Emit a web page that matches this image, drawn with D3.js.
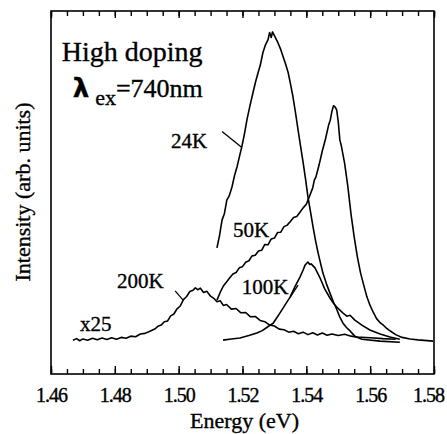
<!DOCTYPE html>
<html><head><meta charset="utf-8">
<script src="https://cdn.jsdelivr.net/npm/d3@7"></script>
<style>body{margin:0;background:#fff}svg{display:block}text{font-family:"Liberation Serif","Times New Roman",serif;fill:#000;stroke:#000;stroke-width:0.35px}</style>
</head><body><svg id="c" width="447" height="434"></svg>
<script>
// Energy (eV), intensity (arb. units)
const xTicks = [1.46, 1.48, 1.50, 1.52, 1.54, 1.56, 1.58];
const xTickLabels = ["1.46", "1.48", "1.50", "1.52", "1.54", "1.56", "1.58"];
const k24 = [[1.5120,30.0],[1.5128,34.0],[1.5136,39.1],[1.5143,41.0],[1.5151,45.6],[1.5158,46.8],[1.5167,49.8],[1.5175,53.5],[1.5183,56.4],[1.519,59.5],[1.5198,62.9],[1.5206,67.0],[1.5214,71.7],[1.5224,76.5],[1.5233,80.5],[1.5241,84.0],[1.5249,87.0],[1.5256,89.5],[1.5264,93.5],[1.5272,96.0],[1.5280,97.7],[1.5285,100.0],[1.529,98.4],[1.5294,100.2],[1.530,99.0],[1.5311,96.7],[1.5319,94.7],[1.5327,92.2],[1.5335,89.8],[1.5343,87.0],[1.535,83.5],[1.5358,79.2],[1.5366,74.0],[1.5374,68.4],[1.5382,63.0],[1.5390,57.7],[1.5398,52.0],[1.5405,46.6],[1.5413,41.8],[1.5421,36.8],[1.5429,32.3],[1.5437,28.3],[1.5445,24.8],[1.5452,21.8],[1.5463,18.3],[1.5474,15.3],[1.5485,12.4],[1.5496,9.8],[1.5505,7.5],[1.5515,5.5],[1.5525,4.2],[1.5537,3.0],[1.5552,1.3],[1.5574,0.3],[1.5631,-0.3],[1.5693,-0.7]];
const k50 = [[1.5120,13.0],[1.513,15.5],[1.514,17.6],[1.515,18.9],[1.516,20.3],[1.517,21.5],[1.518,22.0],[1.519,23.5],[1.520,23.9],[1.521,25.3],[1.522,25.8],[1.523,27.4],[1.524,27.6],[1.525,29.0],[1.526,29.2],[1.527,31.1],[1.528,31.0],[1.529,32.9],[1.530,33.2],[1.531,35.0],[1.532,35.1],[1.533,36.9],[1.534,37.4],[1.535,38.6],[1.536,39.9],[1.537,40.2],[1.538,41.6],[1.539,43.0],[1.540,44.2],[1.541,46.8],[1.542,49.5],[1.5425,52.0],[1.543,53.0],[1.544,57.0],[1.545,61.5],[1.546,65.4],[1.547,70.0],[1.5475,71.5],[1.548,74.3],[1.5485,76.2],[1.549,75.8],[1.5495,74.9],[1.550,71.0],[1.5505,65.1],[1.551,63.0],[1.552,57.5],[1.553,50.0],[1.554,41.0],[1.555,33.5],[1.556,27.0],[1.557,21.8],[1.558,17.8],[1.559,14.0],[1.560,11.2],[1.561,9.0],[1.562,7.0],[1.563,5.8],[1.564,5.0],[1.565,4.0],[1.566,3.2],[1.567,2.5],[1.568,1.8],[1.570,0.9],[1.5725,0.4],[1.575,0.1],[1.5797,-0.3]];
const k100 = [[1.5139,0.0],[1.5165,0.4],[1.5192,0.7],[1.522,1.5],[1.5245,2.3],[1.5262,3.1],[1.5277,4.2],[1.5296,5.5],[1.5307,7.2],[1.5317,8.8],[1.5333,11.4],[1.5349,14.0],[1.5364,17.3],[1.5380,20.5],[1.5390,22.8],[1.5396,24.4],[1.5405,25.4],[1.5411,24.6],[1.5415,24.8],[1.5427,23.5],[1.5435,21.9],[1.5443,20.2],[1.5458,16.6],[1.5474,13.7],[1.5485,12.0],[1.5496,10.7],[1.5515,8.8],[1.5527,7.8],[1.5537,8.1],[1.5552,6.5],[1.5574,4.9],[1.5599,3.3],[1.5631,2.0],[1.5662,1.0],[1.5693,0.3]];
const k200 = [[1.4669,0.0],[1.468,0.5],[1.469,-0.2],[1.470,0.4],[1.4715,0.0],[1.473,0.6],[1.4745,0.1],[1.476,0.7],[1.4775,0.2],[1.479,0.8],[1.4805,0.3],[1.482,0.9],[1.4835,0.6],[1.485,1.3],[1.4865,1.1],[1.488,2.0],[1.4895,2.2],[1.491,2.9],[1.4925,3.6],[1.4935,4.5],[1.4945,4.9],[1.4955,6.0],[1.4965,6.2],[1.4975,7.9],[1.4985,8.5],[1.4995,10.2],[1.5005,11.1],[1.5015,13.2],[1.5025,14.2],[1.5035,15.8],[1.5045,16.2],[1.5052,17.0],[1.506,16.4],[1.5068,16.9],[1.5078,15.5],[1.5088,15.9],[1.510,14.3],[1.511,13.6],[1.512,12.5],[1.513,12.8],[1.514,11.3],[1.515,11.6],[1.5165,10.1],[1.518,10.3],[1.5195,8.9],[1.521,9.0],[1.5225,7.6],[1.524,7.7],[1.5255,6.4],[1.527,6.0],[1.5285,4.9],[1.530,4.6],[1.5315,3.6],[1.533,3.4],[1.5345,2.6],[1.536,2.9],[1.5375,2.1],[1.539,2.6],[1.5405,1.8],[1.542,2.4],[1.5435,1.7],[1.545,2.3],[1.5465,1.6],[1.548,2.0],[1.550,1.5],[1.552,1.9],[1.554,1.3],[1.556,1.0],[1.560,0.8],[1.564,0.5],[1.568,0.3]];
const seriesNames = ["24K", "50K", "100K", "200K"];

const svg = d3.select("#c");
const m = {l: 51, r: 434, t: 11, b: 374};
const x = d3.scaleLinear().domain([1.46, 1.58]).range([m.l, m.r]);
const y = d3.scaleLinear().domain([-11, 107]).range([m.b, m.t]);

// frame
svg.append("rect").attr("x", m.l).attr("y", m.t).attr("width", m.r - m.l).attr("height", m.b - m.t)
  .attr("fill", "none").attr("stroke", "#000").attr("stroke-width", 1.6);

const minor = d3.range(0, 25).map(i => 1.46 + i * 0.005);
const bottomMinor = d3.axisBottom(x).tickValues(minor).tickSize(-5).tickFormat("");
svg.append("g").attr("transform", `translate(0,${m.b})`).call(bottomMinor)
  .call(g => { g.select(".domain").remove(); g.selectAll("line").attr("stroke-width", 1.4); });
const bottomMaj = d3.axisBottom(x).tickValues(xTicks).tickSize(-8).tickPadding(14)
  .tickFormat((d, i) => xTickLabels[i]);
svg.append("g").attr("transform", `translate(0,${m.b})`).call(bottomMaj)
  .call(g => { g.select(".domain").remove(); g.selectAll("line").attr("stroke-width", 1.4);
    g.selectAll("text").attr("font-size", 20).attr("font-family", "Liberation Serif").attr("letter-spacing", -1)
      .attr("dx", (d, i) => i === xTicks.length - 1 ? -6 : 0); });
const topMinor = d3.axisTop(x).tickValues(minor).tickSize(-5).tickFormat("");
svg.append("g").attr("transform", `translate(0,${m.t})`).call(topMinor)
  .call(g => { g.select(".domain").remove(); g.selectAll("line").attr("stroke-width", 1.4); });
const topMaj = d3.axisTop(x).tickValues(xTicks).tickSize(-7).tickFormat("");
svg.append("g").attr("transform", `translate(0,${m.t})`).call(topMaj)
  .call(g => { g.select(".domain").remove(); g.selectAll("line").attr("stroke-width", 1.4); });

// axis titles
svg.append("text").attr("x", (m.l + m.r) / 2 + 2).attr("y", 428).attr("text-anchor", "middle")
  .attr("font-size", 22).text("Energy (eV)");
svg.append("text").attr("transform", `translate(30,192) rotate(-90)`).attr("text-anchor", "middle")
  .attr("font-size", 22).text("Intensity (arb. units)");

// curves
const line = d3.line().x(d => x(d[0])).y(d => y(d[1]));
[k24, k50, k100, k200].forEach((s, i) => {
  svg.append("path").datum(s).attr("class", "s" + seriesNames[i]).attr("d", line)
    .attr("fill", "none").attr("stroke", "#000").attr("stroke-width", 1.6).attr("stroke-linejoin", "round");
});

// annotations
const labels = [
  {t: "24K", e: 1.5089, v: 62.5, anchor: "end"},
  {t: "50K", e: 1.5170, v: 33.6, anchor: "start"},
  {t: "100K", e: 1.5198, v: 15.0, anchor: "start"},
  {t: "200K", e: 1.4807, v: 16.9, anchor: "start"},
  {t: "x25", e: 1.4691, v: 2.9, anchor: "start"}
];
labels.forEach(l => svg.append("text").attr("x", x(l.e)).attr("y", y(l.v)).attr("text-anchor", l.anchor)
  .attr("font-size", 21).text(l.t));
const pointers = [
  [[1.5136, 67.8], [1.5198, 62.6]],
  [[1.5374, 17.9], [1.5349, 13.9]],
  [[1.4989, 16.0], [1.5014, 13.0]]
];
pointers.forEach(p => svg.append("line").attr("x1", x(p[0][0])).attr("y1", y(p[0][1]))
  .attr("x2", x(p[1][0])).attr("y2", y(p[1][1])).attr("stroke", "#000").attr("stroke-width", 1.3));

svg.append("text").attr("x", x(1.4634)).attr("y", y(90.6)).attr("font-size", 28).text("High doping");
const lam = svg.append("text").attr("x", x(1.4668)).attr("y", y(79.2));
lam.append("tspan").attr("font-size", 26).attr("font-weight", "bold").attr("font-family", "DejaVu Sans").text("λ");
lam.append("tspan").attr("font-size", 22).attr("dx", 6).attr("dy", 8).text("ex");
lam.append("tspan").attr("font-size", 26).attr("dy", -8).text("=740nm");
</script></body></html>
